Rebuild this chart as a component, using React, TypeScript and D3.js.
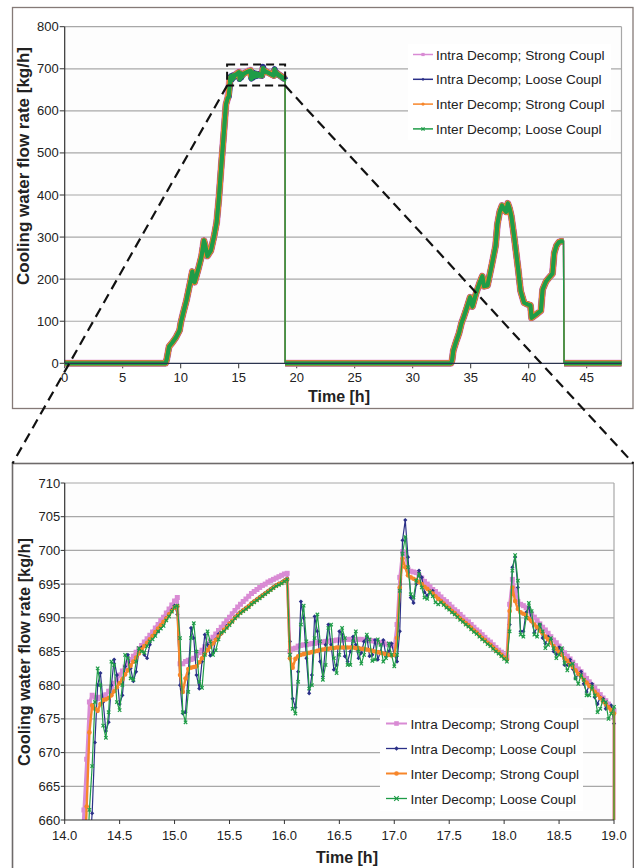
import React, { useEffect, useRef } from 'react';
import * as d3 from 'd3';

const seriesNames = [
  'Intra Decomp; Strong Coupl',
  'Intra Decomp; Loose Coupl',
  'Inter Decomp; Strong Coupl',
  'Inter Decomp; Loose Coupl',
];
const seriesColors = ['#d98bd4', '#2b3088', '#f7862a', '#1f9c48'];
const seriesMarkers = ['square', 'diamond', 'circle', 'x'];

// detail samples every 1.5 min from 14.15 h to 19.0 h, last value = drop to 0
const detailStart = 14.15;
const detailStep = 0.025;

const intraStrong = [
  654, 661.5, 669, 677.5, 678.5, 678.2, 678.0, 678.2, 678.4, 678.6, 679.1, 679.7, 680.3, 680.9, 681.5, 682.1, 682.7, 683.3, 683.8, 684.3,
  684.9, 685.4, 685.9, 686.4, 686.9, 687.4, 687.9, 688.5, 689.0, 689.6, 690.1, 690.7, 691.3, 691.9, 692.5, 693.0, 683.2, 683.2, 683.5, 683.7,
  683.8, 684.0, 684.4, 684.8, 685.2, 685.7, 686.1, 686.6, 687.1, 687.6, 688.1, 688.6, 689.1, 689.6, 690.1, 690.6, 691.1, 691.6, 692.0, 692.4,
  692.8, 693.2, 693.6, 693.9, 694.2, 694.5, 694.8, 695.0, 695.3, 695.5, 695.7, 695.9, 696.1, 696.3, 696.5, 696.6, 685.0, 685.4, 685.5, 685.8,
  685.9, 686.0, 686.0, 686.1, 686.2, 686.2, 686.3, 686.4, 686.4, 686.5, 686.5, 686.6, 686.6, 686.7, 686.7, 686.7, 686.8, 686.8, 686.8, 686.8,
  686.8, 686.8, 686.8, 686.7, 686.7, 686.6, 686.6, 686.5, 686.4, 686.3, 686.3, 686.1, 686.0, 685.9, 685.8, 689.0, 696.0, 699.8, 699.6, 697.2,
  696.9, 696.8, 696.7, 696.3, 695.9, 695.4, 695.0, 694.6, 694.2, 693.9, 693.5, 693.1, 692.7, 692.4, 692.0, 691.6, 691.2, 690.9, 690.5, 690.1,
  689.7, 689.4, 689.0, 688.6, 688.2, 687.9, 687.5, 687.1, 686.7, 686.4, 686.0, 685.6, 685.2, 684.9, 684.5, 684.2, 692.0, 695.7, 694.0, 692.4,
  692.0, 691.8, 691.5, 691.0, 690.6, 690.1, 689.6, 689.1, 688.6, 688.2, 687.7, 687.2, 686.7, 686.3, 685.8, 685.3, 684.8, 684.3, 683.9, 683.4,
  682.9, 682.4, 682.0, 681.5, 681.0, 680.5, 680.0, 679.6, 679.1, 678.6, 678.1, 677.7, 677.2, 676.7, 676.2, 0,
];

const intraLoose = [
  634, 641, 648, 655, 661, 671.5, 680.0, 681.8, 677.5, 673.2, 674.5, 680.0, 683.8, 681.5, 677.2, 678.5, 682.8, 684.5, 682.5, 680.6,
  682.0, 685.0, 685.6, 684.5, 684.0, 686.0, 687.3, 687.6, 688.0, 688.6, 689.3, 690.0, 690.6, 691.2, 691.8, 690.5, 680.0, 675.8, 676.0, 681.8,
  688.5, 687.0, 681.5, 679.5, 683.5, 687.5, 686.0, 684.4, 684.8, 686.8, 687.6, 687.6, 688.2, 688.8, 689.2, 689.6, 690.1, 690.5, 690.9, 691.2,
  691.5, 691.8, 692.2, 692.5, 692.8, 693.1, 693.4, 693.7, 694.0, 694.3, 694.6, 694.9, 695.1, 695.3, 695.6, 695.8, 686.5, 678.0, 676.7, 682.0,
  692.4, 690.0, 684.0, 678.8, 681.5, 690.2, 688.0, 683.5, 681.3, 686.0, 689.0, 686.0, 682.3, 683.0, 688.0, 687.5, 684.3, 683.5, 685.0, 687.2,
  686.0, 684.0, 684.8, 686.5, 687.2, 684.3, 684.5, 686.7, 683.8, 685.0, 686.7, 684.3, 685.0, 686.2, 684.5, 683.5, 688.0, 701.5, 704.5, 699.0,
  693.0, 692.2, 695.0, 697.0, 696.0, 693.8, 693.3, 694.0, 694.0, 693.2, 692.8, 692.5, 692.1, 691.7, 691.4, 691.0, 690.7, 690.3, 689.9, 689.6,
  689.2, 688.9, 688.5, 688.1, 687.8, 687.4, 687.0, 686.7, 686.3, 686.0, 685.6, 685.2, 684.9, 684.5, 684.1, 683.7, 689.0, 697.5, 699.0, 694.5,
  688.0, 688.0, 690.8, 691.6, 689.5, 687.8, 688.5, 689.0, 687.0, 686.2, 687.2, 686.8, 685.0, 684.6, 685.6, 684.8, 683.0, 683.0, 683.8, 682.4,
  681.0, 681.6, 682.0, 680.2, 679.0, 680.0, 680.2, 678.2, 677.2, 678.2, 678.0, 676.5, 676.8, 677.0, 674.3, 0,
];

const interStrong = [
  641, 652, 662, 673, 677.0, 676.5, 676.2, 677.2, 677.8, 677.9, 678.1, 678.5, 679.1, 679.7, 680.3, 680.9, 681.6, 682.2, 682.9, 683.5,
  684.1, 684.7, 685.3, 685.8, 686.3, 686.8, 687.3, 687.9, 688.4, 688.9, 689.4, 689.9, 690.5, 691.0, 691.5, 691.7, 681.5, 679.0, 681.0, 682.4,
  682.6, 682.7, 682.8, 683.4, 684.0, 684.6, 685.2, 685.7, 686.2, 686.7, 687.2, 687.7, 688.2, 688.6, 689.1, 689.5, 690.0, 690.4, 690.8, 691.1,
  691.4, 691.7, 692.1, 692.4, 692.7, 693.0, 693.3, 693.6, 693.9, 694.2, 694.5, 694.8, 695.0, 695.2, 695.5, 695.7, 684.0, 682.6, 683.9, 684.3,
  684.5, 684.6, 684.7, 684.8, 684.9, 685.0, 685.1, 685.2, 685.3, 685.4, 685.4, 685.5, 685.5, 685.6, 685.6, 685.6, 685.6, 685.6, 685.6, 685.6,
  685.5, 685.5, 685.4, 685.4, 685.3, 685.2, 685.1, 685.0, 684.9, 684.8, 684.7, 684.6, 684.5, 684.4, 684.5, 687.0, 694.5, 698.8, 697.5, 696.3,
  696.0, 695.8, 695.6, 695.3, 695.0, 694.6, 694.3, 693.9, 693.6, 693.2, 692.8, 692.5, 692.1, 691.7, 691.4, 691.0, 690.7, 690.3, 689.9, 689.6,
  689.2, 688.9, 688.5, 688.1, 687.8, 687.4, 687.0, 686.7, 686.3, 686.0, 685.6, 685.2, 684.9, 684.5, 684.1, 683.8, 691.0, 694.5, 692.5, 691.3,
  690.8, 690.6, 690.4, 689.9, 689.5, 689.0, 688.6, 688.1, 687.7, 687.2, 686.8, 686.3, 685.8, 685.4, 684.9, 684.5, 684.0, 683.6, 683.1, 682.7,
  682.2, 681.7, 681.3, 680.8, 680.4, 679.9, 679.5, 679.0, 678.6, 678.1, 677.6, 677.2, 676.7, 676.3, 675.8, 0,
];

const interLoose = [
  634, 643, 652, 661.5, 668.0, 677.5, 682.5, 680.0, 674.0, 672.2, 676.0, 683.5, 683.0, 677.5, 676.3, 680.0, 684.5, 684.0, 681.0, 680.8,
  683.5, 685.5, 685.0, 684.8, 685.8, 686.5, 686.8, 687.3, 688.0, 688.4, 688.8, 689.6, 690.2, 690.9, 691.6, 691.8, 687.0, 676.0, 674.5, 679.0,
  687.0, 689.2, 685.0, 680.5, 679.6, 684.5, 688.0, 686.5, 684.5, 685.2, 686.8, 687.8, 688.0, 688.5, 688.9, 689.4, 689.9, 690.3, 690.7, 691.0,
  691.3, 691.6, 692.0, 692.3, 692.6, 692.9, 693.2, 693.5, 693.8, 694.1, 694.4, 694.7, 694.9, 695.1, 695.4, 695.7, 684.5, 676.5, 675.8, 680.5,
  689.0, 691.8, 686.5, 679.5, 680.0, 687.0, 690.5, 686.5, 680.8, 683.0, 688.5, 689.0, 684.0, 681.8, 684.5, 688.5, 687.0, 683.0, 683.0, 686.5,
  688.0, 685.0, 683.2, 684.5, 687.5, 686.8, 683.6, 683.8, 686.8, 686.0, 683.5, 684.0, 686.2, 684.5, 682.8, 684.5, 694.0, 699.5, 702.0, 697.5,
  693.5, 693.0, 695.5, 696.5, 694.5, 693.0, 692.8, 693.8, 693.2, 692.3, 692.0, 692.3, 691.9, 691.5, 691.2, 690.8, 690.5, 690.1, 689.7, 689.4,
  689.0, 688.7, 688.3, 687.9, 687.6, 687.2, 686.8, 686.5, 686.1, 685.8, 685.4, 685.0, 684.7, 684.3, 683.9, 683.5, 688.0, 697.0, 699.3, 695.5,
  687.5, 687.2, 690.0, 692.2, 691.0, 687.5, 687.2, 689.0, 688.0, 685.5, 686.0, 687.0, 685.5, 684.0, 684.5, 685.5, 683.3, 682.2, 683.0, 683.2,
  681.0, 680.2, 681.5, 680.8, 678.5, 678.5, 679.8, 678.5, 676.0, 676.5, 677.8, 677.5, 675.0, 675.8, 676.8, 0,
];

// whole-day profile outside the detail window (same for all four runs)
const preTime = [0, 8.7, 8.8, 8.9, 9.0, 9.3, 9.6, 9.9, 10.0, 10.2, 10.5, 10.8, 11.0, 11.1, 11.2, 11.5, 11.8, 12.0, 12.1, 12.3, 12.6, 12.9, 13.1, 13.3, 13.5, 13.7, 13.9, 14.05];
const preFlow = [0, 0, 10, 25, 40, 50, 62, 78, 95, 118, 150, 190, 218, 195, 193, 222, 255, 292, 282, 255, 268, 305, 335, 395, 470, 540, 615, 630];
const postTime = [19.05, 33.3, 33.4, 33.5, 33.7, 34.0, 34.2, 34.4, 34.7, 34.95, 35.15, 35.45, 35.75, 36.0, 36.15, 36.45, 36.85, 37.15, 37.3, 37.5, 37.7, 37.9, 38.05, 38.2, 38.35, 38.5, 38.75, 39.1, 39.3, 39.6, 39.9, 40.15, 40.25, 40.6, 41.05, 41.2, 41.5, 41.8, 42.05, 42.2, 42.4, 42.6, 42.8, 43.0, 43.05, 48];
const postFlow = [0, 0, 8, 30, 48, 72, 95, 110, 135, 157, 135, 165, 190, 207, 183, 185, 238, 280, 330, 360, 375, 365, 360, 380, 368, 350, 300, 222, 172, 144, 140, 138, 108, 115, 125, 175, 195, 205, 213, 262, 280, 288, 290, 290, 0, 0];

const topXTicks = [0, 5, 10, 15, 20, 25, 30, 35, 40, 45];
const topYTicks = [0, 100, 200, 300, 400, 500, 600, 700, 800];
const zoomXTicks = [14.0, 14.5, 15.0, 15.5, 16.0, 16.5, 17.0, 17.5, 18.0, 18.5, 19.0];
const zoomYTicks = [660, 665, 670, 675, 680, 685, 690, 695, 700, 705, 710];

const FONT = '"Liberation Sans", Arial, Helvetica, sans-serif';
const GRID = '#a8a8a8';
const AXIS = '#333';

const symbolPath = (kind: string, size: number) => {
  const s = size / 2;
  if (kind === 'x') return `M${-s},${-s}L${s},${s}M${-s},${s}L${s},${-s}`;
  if (kind === 'diamond') return `M0,${-s}L${s},0L0,${s}L${-s},0Z`;
  if (kind === 'square') return `M${-s},${-s}H${s}V${s}H${-s}Z`;
  return d3.symbol().type(d3.symbolCircle).size(size * size * 0.8)() as string;
};

const styleMarker = (sel: any, i: number) => {
  if (seriesMarkers[i] === 'x') {
    sel.attr('fill', 'none').attr('stroke', seriesColors[i]).attr('stroke-width', 1.2);
  } else {
    sel.attr('fill', seriesColors[i]).attr('stroke', 'none');
  }
};

const App = () => {
  const svgRef = useRef<SVGSVGElement>(null);

  useEffect(() => {
    const svg = d3.select(svgRef.current);
    svg.selectAll('*').remove();

    const detailTime = intraStrong.map((_, i) => Math.min(19, detailStart + i * detailStep));
    const detailSeries = [intraStrong, intraLoose, interStrong, interLoose];

    // ---------- top panel ----------
    svg.append('rect')
      .attr('x', 12.5).attr('y', 7.5).attr('width', 620.5).attr('height', 401)
      .attr('fill', '#fff').attr('stroke', '#857a77').attr('stroke-width', 1.3);

    const xTop = d3.scaleLinear().domain([0, 48]).range([64.7, 621.5]);
    const yTop = d3.scaleLinear().domain([0, 800]).range([363.3, 26.7]);

    const top = svg.append('g');
    top.append('rect')
      .attr('x', xTop(0)).attr('y', yTop(800))
      .attr('width', xTop(48) - xTop(0)).attr('height', yTop(0) - yTop(800))
      .attr('fill', '#fdfdfd');

    topYTicks.forEach(v => {
      if (v > 0) {
        top.append('line')
          .attr('x1', xTop(0)).attr('x2', xTop(48)).attr('y1', yTop(v)).attr('y2', yTop(v))
          .attr('stroke', GRID).attr('stroke-width', 1.2);
      }
      top.append('line')
        .attr('x1', xTop(0) - 5).attr('x2', xTop(0)).attr('y1', yTop(v)).attr('y2', yTop(v))
        .attr('stroke', AXIS).attr('stroke-width', 1);
      top.append('text')
        .attr('x', xTop(0) - 6).attr('y', yTop(v) + 4.5)
        .attr('text-anchor', 'end').attr('font-family', FONT).attr('font-size', 13).attr('fill', '#222')
        .text(v);
    });
    top.append('line')
      .attr('x1', xTop(48)).attr('x2', xTop(48)).attr('y1', yTop(0)).attr('y2', yTop(800))
      .attr('stroke', GRID).attr('stroke-width', 1.2);

    topXTicks.forEach(t => {
      top.append('line')
        .attr('x1', xTop(t)).attr('x2', xTop(t)).attr('y1', yTop(0)).attr('y2', yTop(0) + 5)
        .attr('stroke', AXIS).attr('stroke-width', 1);
      top.append('text')
        .attr('x', xTop(t)).attr('y', 382)
        .attr('text-anchor', 'middle').attr('font-family', FONT).attr('font-size', 13).attr('fill', '#222')
        .text(t);
    });

    const topLine = d3.line<number[]>().x(d => xTop(d[0])).y(d => yTop(d[1]));
    const bandWidths = [7, 6, 6, 4.2];
    detailSeries.forEach((vals, s) => {
      const pts: number[][] = [
        ...preTime.map((t, i) => [t, preFlow[i]]),
        ...vals.map((v, i) => [detailTime[i], v]),
        ...postTime.map((t, i) => [t, postFlow[i]]),
      ];
      top.append('path').attr('d', topLine(pts))
        .attr('fill', 'none').attr('stroke', seriesColors[s]).attr('stroke-width', 1.4);
      const runs: number[][][] = [];
      let cur: number[][] = [pts[0]];
      for (let i = 1; i < pts.length; i++) {
        if (Math.abs(pts[i][1] - pts[i - 1][1]) > 150) { runs.push(cur); cur = [pts[i]]; }
        else cur.push(pts[i]);
      }
      runs.push(cur);
      runs.forEach(r => {
        top.append('path').attr('d', topLine(r))
          .attr('fill', 'none').attr('stroke', seriesColors[s])
          .attr('stroke-width', bandWidths[s]).attr('stroke-linejoin', 'round').attr('stroke-linecap', 'butt');
      });
    });

    top.append('line')
      .attr('x1', xTop(0)).attr('x2', xTop(0)).attr('y1', yTop(0)).attr('y2', yTop(800))
      .attr('stroke', AXIS).attr('stroke-width', 1.2);
    top.append('line')
      .attr('x1', xTop(0)).attr('x2', xTop(48)).attr('y1', yTop(0)).attr('y2', yTop(0))
      .attr('stroke', '#2c3550').attr('stroke-width', 1.2);

    // top legend
    const lgTop = top.append('g');
    lgTop.append('rect').attr('x', 408).attr('y', 44).attr('width', 203).attr('height', 96).attr('fill', '#fff');
    seriesNames.forEach((name, i) => {
      const cy = 54.5 + i * 24.8;
      lgTop.append('line').attr('x1', 413).attr('x2', 433).attr('y1', cy).attr('y2', cy)
        .attr('stroke', seriesColors[i]).attr('stroke-width', 1.5);
      styleMarker(lgTop.append('path').attr('transform', `translate(423,${cy})`).attr('d', symbolPath(seriesMarkers[i], 3.2)), i);
      lgTop.append('text').attr('x', 436).attr('y', cy + 5)
        .attr('font-family', FONT).attr('font-size', 13.6).attr('fill', '#222').text(name);
    });

    top.append('text')
      .attr('x', 339).attr('y', 402)
      .attr('text-anchor', 'middle').attr('font-family', FONT).attr('font-weight', 'bold')
      .attr('font-size', 16).attr('fill', '#222').text('Time [h]');
    top.append('text')
      .attr('transform', 'translate(29,166) rotate(-90)')
      .attr('text-anchor', 'middle').attr('font-family', FONT).attr('font-weight', 'bold')
      .attr('font-size', 17).attr('fill', '#222').text('Cooling water flow rate [kg/h]');

    // ---------- bottom panel ----------
    svg.append('rect')
      .attr('x', 12.5).attr('y', 463.5).attr('width', 621).attr('height', 440)
      .attr('fill', '#fff').attr('stroke', '#6e6a6a').attr('stroke-width', 1.6);

    const xZoom = d3.scaleLinear().domain([14, 19]).range([64.7, 614]);
    const yZoom = d3.scaleLinear().domain([660, 710]).range([820, 483]);

    const bot = svg.append('g');
    bot.append('rect')
      .attr('x', xZoom(14)).attr('y', yZoom(710))
      .attr('width', xZoom(19) - xZoom(14)).attr('height', yZoom(660) - yZoom(710))
      .attr('fill', '#fdfdfd');

    zoomYTicks.forEach(v => {
      if (v > 660) {
        bot.append('line')
          .attr('x1', xZoom(14)).attr('x2', xZoom(19)).attr('y1', yZoom(v)).attr('y2', yZoom(v))
          .attr('stroke', GRID).attr('stroke-width', 1.2);
      }
      bot.append('line')
        .attr('x1', xZoom(14) - 4).attr('x2', xZoom(14)).attr('y1', yZoom(v)).attr('y2', yZoom(v))
        .attr('stroke', AXIS).attr('stroke-width', 1);
      bot.append('text')
        .attr('x', xZoom(14) - 4.5).attr('y', yZoom(v) + 4.5)
        .attr('text-anchor', 'end').attr('font-family', FONT).attr('font-size', 13).attr('fill', '#222')
        .text(v);
    });
    bot.append('line')
      .attr('x1', xZoom(19)).attr('x2', xZoom(19)).attr('y1', yZoom(660)).attr('y2', yZoom(710))
      .attr('stroke', GRID).attr('stroke-width', 1.2);

    zoomXTicks.forEach(t => {
      bot.append('line')
        .attr('x1', xZoom(t)).attr('x2', xZoom(t)).attr('y1', yZoom(660)).attr('y2', yZoom(660) + 4)
        .attr('stroke', AXIS).attr('stroke-width', 1);
      bot.append('text')
        .attr('x', xZoom(t)).attr('y', 840)
        .attr('text-anchor', 'middle').attr('font-family', FONT).attr('font-size', 13).attr('fill', '#222')
        .text(d3.format('.1f')(t));
    });

    svg.append('defs').append('clipPath').attr('id', 'zoomClip')
      .append('rect').attr('x', xZoom(14)).attr('y', yZoom(710) - 4)
      .attr('width', xZoom(19) - xZoom(14) + 4).attr('height', yZoom(660) - yZoom(710) + 4);

    const data = bot.append('g').attr('clip-path', 'url(#zoomClip)');
    const zoomLine = d3.line<number[]>().x(d => xZoom(d[0])).y(d => yZoom(d[1]));
    const lineWidths = [3, 1.2, 2.4, 1.2];
    const markerSizes = [5, 4.2, 4.6, 3.4];
    detailSeries.forEach((vals, s) => {
      const pts = vals.map((v, i) => [detailTime[i], v]);
      data.append('path').attr('d', zoomLine(pts))
        .attr('fill', 'none').attr('stroke', seriesColors[s]).attr('stroke-width', lineWidths[s])
        .attr('stroke-linejoin', 'round');
      const m = data.append('g');
      const sel = m.selectAll('path').data(pts.filter(p => p[1] > 0)).join('path')
        .attr('transform', d => `translate(${xZoom(d[0])},${yZoom(d[1])})`)
        .attr('d', symbolPath(seriesMarkers[s], markerSizes[s]));
      styleMarker(sel, s);
    });

    bot.append('line')
      .attr('x1', xZoom(14)).attr('x2', xZoom(14)).attr('y1', yZoom(660)).attr('y2', yZoom(710))
      .attr('stroke', AXIS).attr('stroke-width', 1.2);
    bot.append('line')
      .attr('x1', xZoom(14)).attr('x2', xZoom(19)).attr('y1', yZoom(660)).attr('y2', yZoom(660))
      .attr('stroke', AXIS).attr('stroke-width', 1.2);

    // bottom legend
    const lgBot = bot.append('g');
    lgBot.append('rect').attr('x', 380).attr('y', 708).attr('width', 203).attr('height', 103).attr('fill', '#fff');
    seriesNames.forEach((name, i) => {
      const cy = 723.5 + i * 25;
      lgBot.append('line').attr('x1', 386).attr('x2', 407).attr('y1', cy).attr('y2', cy)
        .attr('stroke', seriesColors[i]).attr('stroke-width', i % 2 === 0 ? 2 : 1.3);
      styleMarker(lgBot.append('path').attr('transform', `translate(396.5,${cy})`).attr('d', symbolPath(seriesMarkers[i], 4.6)), i);
      lgBot.append('text').attr('x', 410.5).attr('y', cy + 5)
        .attr('font-family', FONT).attr('font-size', 13.6).attr('fill', '#222').text(name);
    });

    bot.append('text')
      .attr('x', 347).attr('y', 863)
      .attr('text-anchor', 'middle').attr('font-family', FONT).attr('font-weight', 'bold')
      .attr('font-size', 16).attr('fill', '#222').text('Time [h]');
    bot.append('text')
      .attr('transform', 'translate(30,652) rotate(-90)')
      .attr('text-anchor', 'middle').attr('font-family', FONT).attr('font-weight', 'bold')
      .attr('font-size', 16.3).attr('fill', '#222').text('Cooling water flow rate [kg/h]');

    // ---------- zoom indicator ----------
    const zg = svg.append('g');
    zg.append('rect')
      .attr('x', xTop(14)).attr('y', yTop(710))
      .attr('width', xTop(19) - xTop(14)).attr('height', yTop(660) - yTop(710))
      .attr('fill', 'none').attr('stroke', '#111').attr('stroke-width', 2).attr('stroke-dasharray', '8,5');
    zg.append('line')
      .attr('x1', xTop(14)).attr('y1', yTop(660)).attr('x2', 12.5).attr('y2', 463.5)
      .attr('stroke', '#111').attr('stroke-width', 2.2).attr('stroke-dasharray', '10,6');
    zg.append('line')
      .attr('x1', xTop(19)).attr('y1', yTop(660)).attr('x2', 633.5).attr('y2', 463.5)
      .attr('stroke', '#111').attr('stroke-width', 2.2).attr('stroke-dasharray', '10,6');
  }, []);

  return (
    <svg
      ref={svgRef}
      width={634}
      height={868}
      viewBox="0 0 634 868"
      style={{ position: 'absolute', left: 0, top: 0, background: '#fff' }}
    />
  );
};

export default App;
